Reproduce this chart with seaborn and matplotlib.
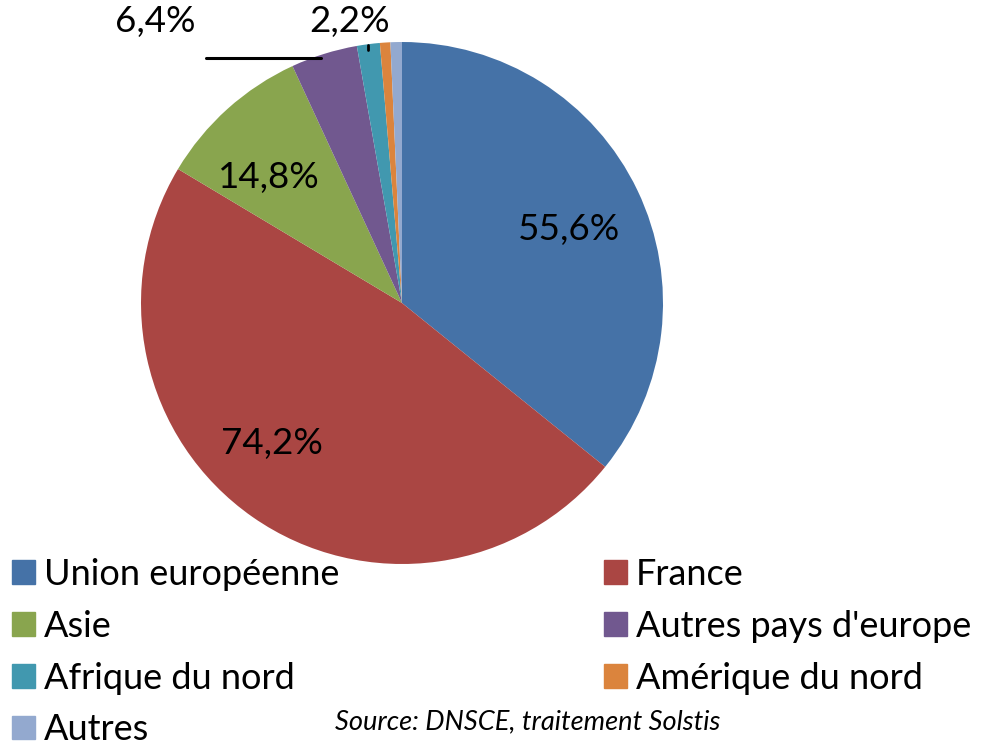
import matplotlib
matplotlib.use('Agg')
import matplotlib.pyplot as plt
import matplotlib.patches as mpatches
import seaborn as sns
import numpy as np

sns.set_theme(style='white')
plt.rcParams['font.family'] = ['Lato', 'DejaVu Sans']
plt.rcParams['text.color'] = 'black'

# données
categories = ['Union européenne', 'France', 'Asie', "Autres pays d'europe",
              'Afrique du nord', 'Amérique du nord', 'Autres']
values = [55.6, 74.2, 14.8, 6.4, 2.2, 1.0, 1.1]
labels = ['55,6%', '74,2%', '14,8%', '6,4%', '2,2%', '', '']
colors = ['#4572A7', '#AA4643', '#89A54E', '#71588F', '#4198AF', '#DB843D', '#93A9CF']

W, H = 990, 749
fig = plt.figure(figsize=(W / 100, H / 100), dpi=100)

# pie centre (402, 303) px, radius 261 px
cx, cy, r = 402, 303, 261
ax = fig.add_axes([(cx - r) / W, (H - cy - r) / H, 2 * r / W, 2 * r / H])

wedges, _ = ax.pie(values, colors=colors, startangle=90, counterclock=False,
                   radius=1, wedgeprops=dict(linewidth=0))
ax.set_xlim(-1, 1)
ax.set_ylim(-1, 1)
ax.axis('off')

fs = 26.5
# étiquettes
ax.text(0.64, 0.28, labels[0], fontsize=fs, ha='center', va='center')
ax.text(-0.50, -0.54, labels[1], fontsize=fs, ha='center', va='center')
ax.text(-0.51, 0.48, labels[2], fontsize=fs, ha='center', va='center')
ax.text(-0.79, 1.08, labels[3], fontsize=fs, ha='right', va='center', clip_on=False)
ax.plot([-0.75, -0.31], [0.94, 0.94], color='black', lw=2.2, clip_on=False)
ax.text(-0.20, 1.08, labels[4], fontsize=fs, ha='center', va='center', clip_on=False)
ax.plot([-0.13, -0.13], [0.97, 0.99], color='black', lw=2, clip_on=False)

# légende (ordre colonne par colonne)
lfs = 26
order = [0, 2, 4, 6, 1, 3, 5]
handles = [mpatches.Patch(color=colors[i], label=categories[i]) for i in order]
fig.legend(handles=handles, loc='upper left', bbox_to_anchor=(0.012, 1 - 558 / H),
           ncol=2, frameon=False, fontsize=lfs, handlelength=0.63, handleheight=0.63,
           handletextpad=0.25, labelspacing=0.52, columnspacing=7.35, borderpad=0,
           borderaxespad=0)

fig.text(335 / W, 1 - 722 / H, 'Source: DNSCE, traitement Solstis', fontsize=19.6,
         style='italic', ha='left', va='center')

fig.savefig('out.png', dpi=100)
